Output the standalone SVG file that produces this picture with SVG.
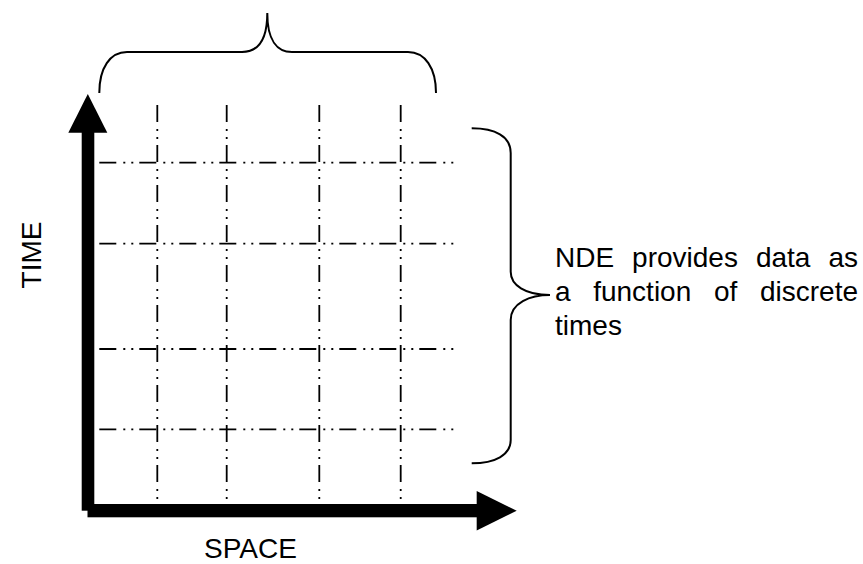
<svg xmlns="http://www.w3.org/2000/svg" width="863" height="564" viewBox="0 0 863 564">
<style>
.grid{fill:none;stroke:#000;stroke-width:1.8;stroke-dasharray:17 7 2 6 2 6;stroke-linecap:butt}
.brace{fill:none;stroke:#000;stroke-width:2}
.lbl{font-family:"Liberation Sans",Arial,sans-serif;font-size:28px;fill:#000}
</style>
<rect width="863" height="564" fill="#fff"/>
<g id="grid">
<line class="grid" x1="157.3" y1="105" x2="157.3" y2="500"/>
<line class="grid" x1="226.7" y1="105" x2="226.7" y2="500"/>
<line class="grid" x1="319.3" y1="105" x2="319.3" y2="500"/>
<line class="grid" x1="400.7" y1="105" x2="400.7" y2="500"/>
<line class="grid" x1="99.3" y1="162.7" x2="454" y2="162.7"/>
<line class="grid" x1="99.3" y1="243.7" x2="454" y2="243.7"/>
<line class="grid" x1="99.3" y1="349" x2="454" y2="349"/>
<line class="grid" x1="99.3" y1="429.3" x2="454" y2="429.3"/>
</g>
<g id="time-axis">
<rect x="81.7" y="130" width="12.6" height="380.7" fill="#000"/>
<polygon points="87.8,94 107.3,132.7 68.3,132.7" fill="#000"/>
</g>
<g id="space-axis">
<rect x="87.5" y="504" width="391" height="13.3" fill="#000"/>
<polygon points="516.7,510.7 476.7,491 476.7,530.4" fill="#000"/>
</g>
<g id="space-brace">
<path class="brace" d="M99.3,93 C99.3,68 110,52 127,52 L242,52 C258,52 267.3,40 267.3,13 C267.3,40 277,52 292,52 L408,52 C425,52 436,68 436,93"/>
</g>
<g id="time-brace">
<path class="brace" d="M471.7,128.3 C495,128.3 510.7,136 510.7,153 L510.7,271.7 C510.7,285 525,295 550,295 C530,295 510.7,303 510.7,320 L510.7,440 C510.7,455 495,463.3 471.7,463.3"/>
</g>
<g id="labels">
<text class="lbl" transform="translate(40.5,255) rotate(-90)" text-anchor="middle">TIME</text>
<text class="lbl" x="250.5" y="557.5" text-anchor="middle">SPACE</text>
<text class="lbl">
<tspan x="555" y="267">NDE</tspan><tspan x="632.1" y="267">provides</tspan><tspan x="755.9" y="267">data</tspan><tspan x="858" y="267" text-anchor="end">as</tspan>
</text>
<text class="lbl">
<tspan x="555" y="301">a</tspan><tspan x="593.2" y="301">function</tspan><tspan x="713.9" y="301">of</tspan><tspan x="858" y="301" text-anchor="end">discrete</tspan>
</text>
<text class="lbl" x="555" y="335">times</text>
</g>
</svg>
